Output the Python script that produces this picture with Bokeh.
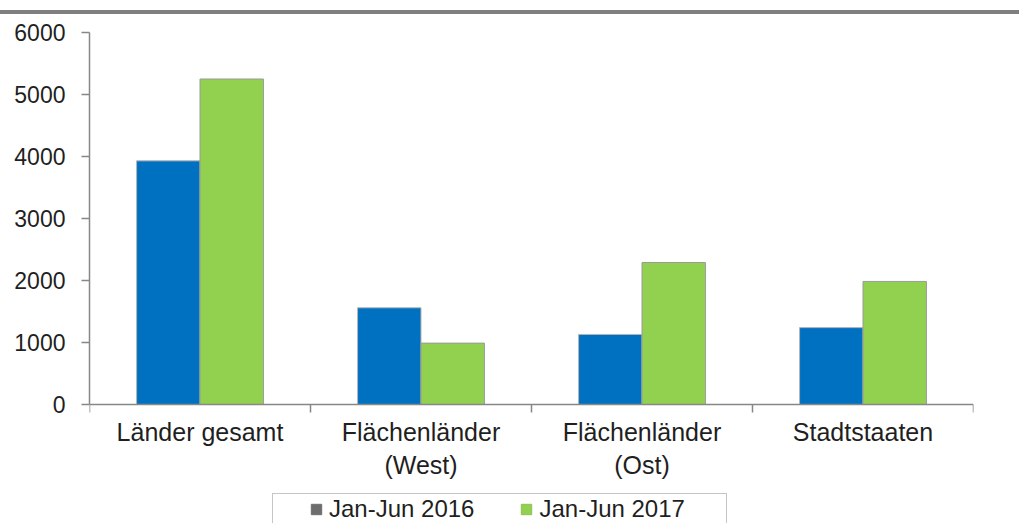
from bokeh.plotting import figure
from bokeh.models import (Range1d, FixedTicker, Legend, LegendItem, ColumnDataSource)
from bokeh.embed import file_html
from bokeh.resources import INLINE

categories = ["Länder gesamt", "Flächenländer\n(West)", "Flächenländer\n(Ost)", "Stadtstaaten"]
series_2016 = [3930, 1560, 1130, 1240]
series_2017 = [5250, 990, 2290, 1985]
label_2016 = "Jan-Jun 2016"
label_2017 = "Jan-Jun 2017"
y_ticks = [0, 1000, 2000, 3000, 4000, 5000, 6000]

FONT = "Liberation Sans"
TEXT = "#1f1f1f"
AXIS = "#878787"
BLUE = "#0070C0"
GREEN = "#92D050"
BAR_W = 0.287

W, H = 1019, 523
FRAME_TOP, ZERO_PX = 32, 404
Y_MAX = y_ticks[-1]
y_start = -Y_MAX * (H - ZERO_PX) / (ZERO_PX - FRAME_TOP)   # room below the axis for labels + legend

n = len(categories)
centers = [i + 0.5 for i in range(n)]

p = figure(width=W, height=H, output_backend="svg", toolbar_location=None,
           x_range=Range1d(0, n), y_range=Range1d(y_start, Y_MAX),
           min_border_left=89, min_border_right=46, min_border_top=FRAME_TOP, min_border_bottom=0)
p.outline_line_color = None
p.grid.visible = False
p.background_fill_color = "white"
p.border_fill_alpha = 0
# grey rule across the top of the page
p.styles = {"background": "linear-gradient(#7f7f7f, #7f7f7f) 0px 10px / 100% 4px no-repeat, white"}

src16 = ColumnDataSource(dict(x=[c - BAR_W / 2 for c in centers], top=series_2016))
src17 = ColumnDataSource(dict(x=[c + BAR_W / 2 for c in centers], top=series_2017))
p.vbar(x="x", top="top", width=BAR_W, bottom=0, source=src16,
       fill_color=BLUE, line_color="#b5b5b5", line_width=1)
p.vbar(x="x", top="top", width=BAR_W, bottom=0, source=src17,
       fill_color=GREEN, line_color="#9a9a9a", line_width=1)

# legend swatches (hidden renderers; grey swatch for 2016 as in the original)
leg16 = p.scatter(x="x", y="top", source=src16, marker="square",
                  fill_color="#6d6d6d", line_color="#6d6d6d", visible=False)
leg17 = p.scatter(x="x", y="top", source=src17, marker="square",
                  fill_color=GREEN, line_color="#8fbf55", visible=False)
legpad = p.scatter(x="x", y="top", source=src17, marker="square",
                   fill_alpha=0, line_alpha=0, visible=False)

# y axis
ya = p.yaxis[0]
ya.ticker = FixedTicker(ticks=y_ticks)
ya.bounds = (0, Y_MAX)
ya.axis_line_color = AXIS
ya.axis_line_width = 1.5
ya.major_tick_line_color = AXIS
ya.major_tick_line_width = 1.5
ya.major_tick_out = 8
ya.major_tick_in = 0
ya.minor_tick_line_color = None
ya.major_label_standoff = 16
ya.major_label_text_font = FONT
ya.major_label_text_font_size = "23px"
ya.major_label_text_color = TEXT

# x axis, drawn at y = 0
xa = p.xaxis[0]
xa.fixed_location = 0
xa.ticker = FixedTicker(ticks=centers, minor_ticks=list(range(n + 1)))
xa.major_label_overrides = {c: lab for c, lab in zip(centers, categories)}
xa.axis_line_color = AXIS
xa.axis_line_width = 1.5
xa.major_tick_line_color = None
xa.major_tick_out = 0
xa.major_tick_in = 0
xa.minor_tick_line_color = AXIS
xa.minor_tick_line_width = 1.5
xa.minor_tick_out = 8
xa.minor_tick_in = 0
xa.major_label_standoff = 5
xa.major_label_text_font = FONT
xa.major_label_text_font_size = "25px"
xa.major_label_text_color = TEXT

# legend frame (drawn first, empty), then the legend entries on top of it
legend_box = Legend(items=[LegendItem(label=" ", renderers=[legpad])],
                    orientation="horizontal", location=(183, -6),
                    glyph_width=26, glyph_height=26, label_standoff=0, label_width=419,
                    padding=4, margin=0,
                    label_text_font=FONT, label_text_font_size="24px",
                    border_line_color="#8c8c8c", border_line_width=1.5,
                    background_fill_color="white", background_fill_alpha=1)
p.add_layout(legend_box)

legend = Legend(items=[LegendItem(label=label_2016, renderers=[leg16]),
                       LegendItem(label=label_2017, renderers=[leg17])],
                orientation="horizontal", location=(214, 0),
                glyph_width=26, glyph_height=26, label_standoff=0, spacing=39,
                padding=4, margin=0,
                label_text_font=FONT, label_text_font_size="24px", label_text_color=TEXT,
                border_line_color=None, background_fill_alpha=0)
p.add_layout(legend)

open("out.html", "w").write(file_html(p, INLINE))
